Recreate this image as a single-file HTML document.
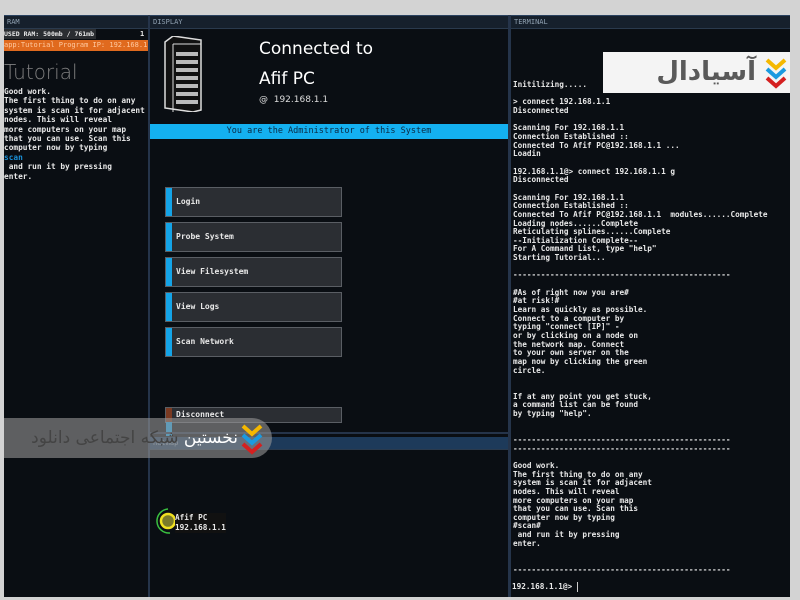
<!DOCTYPE html>
<html><head><meta charset="utf-8"><style>
*{margin:0;padding:0;box-sizing:border-box}
body{width:800px;height:600px;background:#d3d3d3;position:relative;overflow:hidden;font-family:"DejaVu Sans Mono","Liberation Mono",monospace;color:#e8e8e8}
.a{position:absolute}
.frame{left:4px;top:15px;width:786px;height:582px;background:#0a0e13}
.hdr{height:13px;background:#16202c;color:#8fa0b0;font-size:7px;line-height:13px;padding-left:3px;border-bottom:1px solid #2a3a4d}
.pre{white-space:pre;font-size:7.7px;line-height:8.65px;font-weight:bold;color:#e8e8e8}
.btn{left:165px;width:177px;height:30px;background:#2b2e33;border:1px solid #5a5e64;font-size:8px;font-weight:bold;line-height:28px;padding-left:10px}
.btn:before{content:"";position:absolute;left:0;top:0;width:6px;height:28px;background:#14a4e8}
</style></head><body>
<div class="a frame"></div>
<div class="a" style="left:4px;top:15px;width:786px;height:2px;background:#2a4260"></div>
<!-- RAM panel -->
<div class="a hdr" style="left:4px;top:16px;width:144px">RAM</div>
<div class="a" style="left:4px;top:29px;width:92px;height:10px;background:#2a2d31;font-size:6.5px;font-weight:bold;line-height:10px;white-space:nowrap">USED RAM: 500mb / 761mb</div>
<div class="a" style="left:140px;top:29px;font-size:7px;font-weight:bold;line-height:10px">1</div>
<div class="a" style="left:4px;top:40px;width:144px;height:11px;background:#e06a1e;color:#ffc9a0;font-size:7px;line-height:11px;white-space:nowrap;overflow:hidden">app:Tutorial Program  IP: 192.168.1.1</div>
<div class="a" style="left:4px;top:60px;font-size:20px;color:#808080;font-family:'DejaVu Sans',sans-serif;font-weight:200">Tutorial</div>
<div class="a pre" style="left:4px;top:87px;line-height:9.4px;font-size:7.8px">Good work.
The first thing to do on any
system is scan it for adjacent
nodes. This will reveal
more computers on your map
that you can use. Scan this
computer now by typing
<span style="color:#1a8fd6">scan</span>
 and run it by pressing
enter.</div>
<div class="a" style="left:148px;top:15px;width:2px;height:582px;background:#25344a"></div>
<!-- Display -->
<div class="a hdr" style="left:150px;top:16px;width:358px">DISPLAY</div>
<svg class="a" style="left:163px;top:36px" width="40" height="76"><polygon points="2,6 10,0 38,4 38,74 30,76 2,72" fill="#111" stroke="#ddd" stroke-width="1.5"/><line x1="10" y1="8" x2="38" y2="8" stroke="#ddd"/><line x1="10" y1="8" x2="10" y2="76" stroke="#ddd"/><g fill="#bbb"><rect x="13" y="16" width="22" height="4"/><rect x="13" y="24" width="22" height="4"/><rect x="13" y="32" width="22" height="4"/><rect x="13" y="40" width="22" height="4"/><rect x="13" y="48" width="22" height="4"/><rect x="13" y="56" width="22" height="4"/><rect x="13" y="64" width="22" height="4"/></g></svg>
<div class="a" style="left:259px;top:39px;font-size:17px;font-family:'DejaVu Sans',sans-serif;color:#fff">Connected to</div>
<div class="a" style="left:259px;top:69px;font-size:17px;font-family:'DejaVu Sans',sans-serif;color:#fff">Afif PC</div>
<div class="a" style="left:259px;top:95px;font-size:9px;font-family:'DejaVu Sans',sans-serif;color:#ddd">@&nbsp; 192.168.1.1</div>
<div class="a" style="left:150px;top:124px;width:358px;height:15px;background:#14b0f0;color:#0a2a44;font-size:8.5px;line-height:15px;text-align:center">You are the Administrator of this System</div>
<div class="a btn" style="top:187px">Login</div>
<div class="a btn" style="top:222px">Probe System</div>
<div class="a btn" style="top:257px">View Filesystem</div>
<div class="a btn" style="top:292px">View Logs</div>
<div class="a btn" style="top:327px">Scan Network</div>
<div class="a btn" style="top:407px;height:16px;line-height:14px"><span style="position:absolute;left:0;top:0;width:6px;height:14px;background:#7a3a22"></span>Disconnect</div>
<div class="a" style="left:150px;top:432px;width:360px;height:2px;background:#25344a"></div>
<div class="a hdr" style="left:150px;top:437px;width:360px;background:#1d3a5a">netmap</div>
<svg class="a" style="left:155px;top:507px" width="26" height="30"><path d="M13,2 A11,11 0 1,0 15,26" fill="none" stroke="#3ac040" stroke-width="1.5"/><circle cx="13" cy="14" r="7" fill="#7a7a2a" stroke="#f0e020" stroke-width="2.5"/></svg>
<div class="a pre" style="left:175px;top:513px;background:#111;line-height:10px">Afif PC
192.168.1.1</div>
<!-- Terminal -->
<div class="a" style="left:508px;top:15px;width:3px;height:582px;background:#25344a"></div>
<div class="a hdr" style="left:511px;top:16px;width:279px">TERMINAL</div>
<div class="a pre" style="left:513px;top:81px">Initilizing.....

&gt; connect 192.168.1.1
Disconnected

Scanning For 192.168.1.1
Connection Established ::
Connected To Afif PC@192.168.1.1 ...
Loadin

192.168.1.1@&gt; connect 192.168.1.1 g
Disconnected

Scanning For 192.168.1.1
Connection Established ::
Connected To Afif PC@192.168.1.1  modules......Complete
Loading nodes......Complete
Reticulating splines......Complete
--Initialization Complete--
For A Command List, type "help"
Starting Tutorial...

-----------------------------------------------

#As of right now you are#
#at risk!#
Learn as quickly as possible.
Connect to a computer by
typing "connect [IP]" -
or by clicking on a node on
the network map. Connect
to your own server on the
map now by clicking the green
circle.


If at any point you get stuck,
a command list can be found
by typing "help".


-----------------------------------------------
-----------------------------------------------

Good work.
The first thing to do on any
system is scan it for adjacent
nodes. This will reveal
more computers on your map
that you can use. Scan this
computer now by typing
#scan#
 and run it by pressing
enter.


-----------------------------------------------</div>
<div class="a pre" style="left:512px;top:582px">192.168.1.1@&gt; <span style="display:inline-block;width:1px;height:10px;background:#ccc;vertical-align:middle"></span></div>
<!-- watermarks -->
<div class="a" style="left:603px;top:52px;width:187px;height:41px;background:#f4f4f4"></div>
<div class="a" style="left:606px;top:52px;width:150px;height:41px;color:#5a5a5a;font-family:'DejaVu Sans',sans-serif;font-size:26px;font-weight:bold;line-height:41px;text-align:right;direction:rtl">آسیادال</div>
<svg class="a" style="left:764px;top:57px" width="24" height="32"><polyline points="3,3 12,11 21,3" fill="none" stroke="#f5b800" stroke-width="4"/><polyline points="3,12 12,20 21,12" fill="none" stroke="#1a9ae0" stroke-width="4"/><polyline points="3,21 12,29 21,21" fill="none" stroke="#d42020" stroke-width="4"/></svg>
<div class="a" style="left:4px;top:418px;width:268px;height:40px;background:rgba(150,150,150,0.6);border-radius:0 20px 20px 0"></div>
<div class="a" style="left:6px;top:418px;width:232px;height:40px;font-family:'DejaVu Sans',sans-serif;font-size:17px;line-height:40px;direction:rtl;text-align:right;color:#444;white-space:nowrap"><span style="color:#fff">نخستین</span> شبکه اجتماعی دانلود</div>
<svg class="a" style="left:240px;top:423px" width="24" height="32"><polyline points="3,3 12,11 21,3" fill="none" stroke="#f5b800" stroke-width="4"/><polyline points="3,12 12,20 21,12" fill="none" stroke="#1a9ae0" stroke-width="4"/><polyline points="3,21 12,29 21,21" fill="none" stroke="#d42020" stroke-width="4"/></svg>
</body></html>
